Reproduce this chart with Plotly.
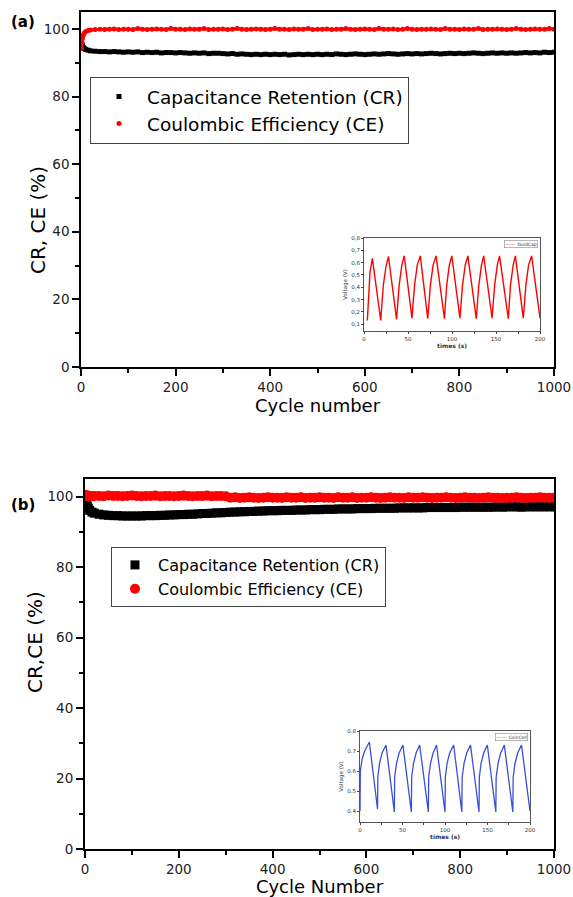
import plotly.graph_objects as go

# ---------------- data ----------------
cycles = [1, 2, 3, 5, 7, 10, 15, 20] + list(range(30, 1001, 10))

# panel (a)
cr_a = [95.9, 95.4, 95.0, 94.5, 94.2, 93.9, 93.7, 93.5,
        93.4, 93.3, 93.3, 93.2, 93.3, 93.2, 93.1, 93.2,
        93.1, 93.2, 93.0, 93.1, 93.0, 93.1, 92.9, 93.0, 93.0, 92.9,
        93.0, 92.9, 92.8, 92.9, 92.8, 92.9, 92.7, 92.8, 92.8, 92.7,
        92.6, 92.7, 92.5, 92.6, 92.5, 92.4, 92.5, 92.4, 92.5, 92.4,
        92.5, 92.4, 92.5, 92.3, 92.4, 92.5, 92.4, 92.5, 92.4, 92.5,
        92.4, 92.5, 92.4, 92.6, 92.5, 92.4, 92.5, 92.6, 92.5, 92.4,
        92.5, 92.6, 92.5, 92.6, 92.7, 92.6, 92.5, 92.6, 92.7, 92.6,
        92.7, 92.6, 92.7, 92.8, 92.7, 92.6, 92.7, 92.8, 92.7, 92.8,
        92.7, 92.8, 92.9, 92.8, 92.7, 92.8, 92.9, 92.8, 92.9, 92.8,
        92.9, 92.8, 92.9, 93.0, 92.9, 93.0, 92.9, 93.1, 93.0, 93.1]
ce_a = [94.3, 96.0, 97.2, 98.2, 98.8, 99.2, 99.5, 99.7,
        99.8, 99.9, 99.8, 99.9, 100.0, 99.8, 99.9, 99.9,
        99.8, 100.1, 99.9, 99.8, 99.9, 100.0, 99.9, 99.8, 100.1, 99.9,
        99.9, 99.8, 100.0, 99.9, 99.9, 100.1, 99.8, 99.9, 99.9, 100.0,
        99.8, 99.9, 100.1, 99.9, 99.8, 99.9, 100.0, 99.9, 99.8, 99.9,
        100.1, 99.9, 99.9, 99.8, 100.0, 99.9, 99.9, 100.1, 99.8, 99.9,
        99.9, 100.0, 99.8, 99.9, 99.9, 100.1, 99.9, 99.8, 99.9, 100.0,
        99.9, 99.8, 100.1, 99.9, 99.9, 100.0, 99.8, 99.9, 100.1, 99.9,
        99.8, 99.9, 99.9, 100.0, 99.9, 99.8, 100.1, 99.9, 99.9, 99.8,
        100.0, 99.9, 99.9, 100.1, 99.8, 99.9, 99.9, 100.0, 99.9, 99.8,
        99.9, 100.1, 99.9, 99.8, 99.9, 100.0, 99.9, 99.9, 100.1, 99.9]

# panel (b)
cr_b = [99.8, 98.9, 98.2, 97.3, 96.7, 96.1, 95.6, 95.3,
        95.0, 94.8, 94.7, 94.6, 94.6, 94.5, 94.5, 94.5,
        94.5, 94.5, 94.6, 94.6, 94.6, 94.7, 94.7, 94.8, 94.8, 94.9,
        94.9, 95.0, 95.0, 95.1, 95.2, 95.2, 95.3, 95.4, 95.4, 95.5,
        95.6, 95.6, 95.7, 95.7, 95.8, 95.8, 95.9, 95.9, 96.0, 96.0,
        96.0, 96.1, 96.1, 96.1, 96.2, 96.2, 96.2, 96.3, 96.3, 96.3,
        96.4, 96.4, 96.4, 96.5, 96.5, 96.5, 96.5, 96.6, 96.6, 96.6,
        96.6, 96.7, 96.7, 96.7, 96.7, 96.7, 96.8, 96.8, 96.8, 96.8,
        96.8, 96.8, 96.9, 96.9, 96.9, 96.9, 96.9, 96.9, 96.9, 97.0,
        97.0, 97.0, 97.0, 97.0, 97.0, 97.0, 97.0, 97.1, 97.0, 97.1,
        97.1, 97.1, 97.0, 97.1, 97.1, 97.1, 97.1, 97.1, 97.1, 97.1]
ce_b = [100.5, 100.3, 100.2, 100.2, 100.3, 100.2, 100.1, 100.2,
        100.2, 100.1, 100.3, 100.2, 100.2, 100.1, 100.2, 100.3,
        100.2, 100.1, 100.2, 100.2, 100.3, 100.1, 100.2, 100.2, 100.1, 100.2,
        100.3, 100.2, 100.1, 100.2, 100.2, 100.3, 100.1, 100.2, 100.2, 100.1,
        99.7, 99.8, 99.6, 99.7, 99.8, 99.7, 99.6, 99.7, 99.8, 99.7,
        99.7, 99.6, 99.8, 99.7, 99.7, 99.8, 99.6, 99.7, 99.7, 99.8,
        99.7, 99.7, 99.6, 99.8, 99.7, 99.7, 99.8, 99.6, 99.7, 99.7,
        99.8, 99.7, 99.6, 99.7, 99.8, 99.7, 99.7, 99.6, 99.8, 99.7,
        99.7, 99.8, 99.7, 99.6, 99.7, 99.7, 99.8, 99.7, 99.6, 99.7,
        99.8, 99.7, 99.7, 99.6, 99.7, 99.8, 99.7, 99.7, 99.6, 99.7,
        99.7, 99.8, 99.7, 99.6, 99.7, 99.7, 99.8, 99.7, 99.7, 99.7]

# inset (a): GoldCap charge/discharge
t_a = [3.8, 6.8, 9.5, 19.0, 22.0, 25.0, 27.8, 37.0, 40.0, 43.0, 45.7,
       54.5, 57.5, 60.5, 64.0, 72.4, 75.5, 78.5, 81.9, 91.4, 94.0, 97.0, 99.8,
       109.0, 112.0, 115.0, 118.0, 127.6, 130.5, 133.5, 136.0,
       145.5, 148.5, 151.5, 154.0, 164.0, 166.5, 169.5, 172.0,
       181.0, 184.0, 187.0, 190.5, 200.0]
v_a = [0.13, 0.52, 0.635, 0.13, 0.42, 0.57, 0.65, 0.14, 0.42, 0.58, 0.655,
       0.15, 0.42, 0.58, 0.655, 0.145, 0.42, 0.58, 0.655, 0.145, 0.42, 0.58, 0.655,
       0.15, 0.42, 0.58, 0.655, 0.145, 0.42, 0.58, 0.655,
       0.15, 0.42, 0.58, 0.655, 0.145, 0.42, 0.58, 0.655,
       0.15, 0.42, 0.58, 0.655, 0.15]

# inset (b): coin cell charge/discharge
t_b = [0.0, 0.4, 2.5, 5.5, 11.0,
       20.6, 21.0, 23.0, 26.0, 30.6,
       40.4, 40.8, 43.0, 46.0, 50.5,
       60.4, 60.8, 63.0, 66.0, 70.2,
       80.4, 80.8, 83.0, 86.0, 90.0,
       100.0, 100.4, 102.5, 105.5, 110.2,
       119.8, 120.2, 122.5, 125.5, 130.0,
       140.0, 140.4, 142.5, 145.5, 149.8,
       159.8, 160.2, 162.5, 165.5, 169.8,
       179.8, 180.2, 182.5, 185.5, 190.0,
       200.0]
v_b = [0.40, 0.60, 0.66, 0.70, 0.745,
       0.41, 0.57, 0.64, 0.69, 0.73,
       0.395, 0.57, 0.64, 0.69, 0.73,
       0.395, 0.57, 0.64, 0.69, 0.73,
       0.395, 0.57, 0.64, 0.69, 0.73,
       0.395, 0.57, 0.64, 0.69, 0.73,
       0.395, 0.57, 0.64, 0.69, 0.73,
       0.395, 0.57, 0.64, 0.69, 0.73,
       0.395, 0.57, 0.64, 0.69, 0.73,
       0.395, 0.57, 0.64, 0.69, 0.73,
       0.40]

main_yticks = [0, 20, 40, 60, 80, 100]
main_xticks = [0, 200, 400, 600, 800, 1000]
inset_xticks = [0, 50, 100, 150, 200]
inset_a_yticks = [0.1, 0.2, 0.3, 0.4, 0.5, 0.6, 0.7, 0.8]
inset_a_yticktext = ["0,1", "0,2", "0,3", "0,4", "0,5", "0,6", "0,7", "0,8"]
inset_b_yticks = [0.4, 0.5, 0.6, 0.7, 0.8]

FONT = "DejaVu Sans, Verdana, sans-serif"
W, H = 573, 897


def px_x(a, b):
    return [a / W, b / W]


def px_y(top, bottom):
    return [1 - bottom / H, 1 - top / H]


fig = go.Figure()

# ---- panel (a) ----
fig.add_trace(go.Scatter(x=cycles, y=cr_a, mode="lines", line=dict(color="black", width=3),
                         showlegend=False, hoverinfo="skip", xaxis="x", yaxis="y"))
fig.add_trace(go.Scatter(x=cycles, y=cr_a, mode="markers", name="Capacitance Retention (CR)",
                         marker=dict(symbol="square", size=5, color="black"),
                         legend="legend", xaxis="x", yaxis="y"))
fig.add_trace(go.Scatter(x=cycles, y=ce_a, mode="lines", line=dict(color="red", width=3),
                         showlegend=False, hoverinfo="skip", xaxis="x", yaxis="y"))
fig.add_trace(go.Scatter(x=cycles, y=ce_a, mode="markers", name="Coulombic Efficiency (CE)",
                         marker=dict(symbol="circle", size=5, color="red"),
                         legend="legend", xaxis="x", yaxis="y"))
fig.add_trace(go.Scatter(x=t_a, y=v_a, mode="lines", name="GoldCap",
                         line=dict(color="red", width=1.4), showlegend=False,
                         xaxis="x2", yaxis="y2"))

# ---- panel (b) ----
fig.add_trace(go.Scatter(x=cycles, y=cr_b, mode="lines", line=dict(color="black", width=7),
                         showlegend=False, hoverinfo="skip", xaxis="x3", yaxis="y3"))
fig.add_trace(go.Scatter(x=cycles, y=cr_b, mode="markers", name="Capacitance Retention (CR)",
                         marker=dict(symbol="square", size=9, color="black"),
                         legend="legend3", xaxis="x3", yaxis="y3"))
fig.add_trace(go.Scatter(x=cycles, y=ce_b, mode="lines", line=dict(color="red", width=8),
                         showlegend=False, hoverinfo="skip", xaxis="x3", yaxis="y3"))
fig.add_trace(go.Scatter(x=cycles, y=ce_b, mode="markers", name="Coulombic Efficiency (CE)",
                         marker=dict(symbol="circle", size=10, color="red"),
                         legend="legend3", xaxis="x3", yaxis="y3"))
fig.add_trace(go.Scatter(x=t_b, y=v_b, mode="lines", name="CoinCell",
                         line=dict(color="#3a4fd8", width=1.3), showlegend=False,
                         xaxis="x4", yaxis="y4"))

tickfont_main = dict(family=FONT, size=13.5, color="#222")
titlefont_main = dict(family=FONT, size=18, color="black")
tickfont_inset = dict(family=FONT, size=5.5, color="#333")


def main_x(domain, anchor, title, lw):
    return dict(domain=domain, anchor=anchor, range=[0, 1000], tickvals=main_xticks,
                ticks="outside", ticklen=7, tickwidth=lw, tickcolor="black",
                minor=dict(dtick=100, tick0=0, ticks="outside", ticklen=4, tickwidth=lw, tickcolor="black"),
                showline=True, linecolor="black", linewidth=lw, mirror=True,
                showgrid=False, zeroline=False, tickfont=tickfont_main, automargin=False,
                title=dict(text=title, font=titlefont_main, standoff=4))


def main_y(domain, anchor, lw):
    return dict(domain=domain, anchor=anchor, range=[0, 105], tickvals=main_yticks,
                ticks="outside", ticklen=7, tickwidth=lw, tickcolor="black",
                minor=dict(dtick=10, tick0=0, ticks="outside", ticklen=4, tickwidth=lw, tickcolor="black"),
                showline=True, linecolor="black", linewidth=lw, mirror=True,
                showgrid=False, zeroline=False, tickfont=tickfont_main, automargin=False)


def inset_x(domain, anchor):
    return dict(domain=domain, anchor=anchor, range=[0, 200], tickvals=inset_xticks,
                ticks="outside", ticklen=2, tickwidth=0.8, tickcolor="#444",
                minor=dict(dtick=25, tick0=0, ticks="outside", ticklen=1.5, tickwidth=0.8, tickcolor="#444"),
                showline=True, linecolor="#555", linewidth=1, mirror=True,
                showgrid=False, zeroline=False, tickfont=tickfont_inset, automargin=False,
                title=dict(text="<b>times (s)</b>", font=dict(family=FONT, size=6, color="#333"), standoff=1))


def inset_y(domain, anchor, rng, tv, tt=None):
    d = dict(domain=domain, anchor=anchor, range=rng, tickvals=tv,
             ticks="outside", ticklen=2, tickwidth=0.8, tickcolor="#444",
             showline=True, linecolor="#555", linewidth=1, mirror=True,
             showgrid=False, zeroline=False, tickfont=tickfont_inset, automargin=False,
             title=dict(text="Voltage (V)", font=dict(family=FONT, size=5.5, color="#333"), standoff=3))
    if tt is not None:
        d["ticktext"] = tt
    return d


def inset_legend(text, color, x_right, y_top):
    return dict(text='<span style="color:%s">\u2014\u2014</span>  %s' % (color, text),
                x=x_right / W, y=1 - y_top / H, xref="paper", yref="paper",
                xanchor="right", yanchor="top", showarrow=False,
                font=dict(family=FONT, size=4.5, color="#333"),
                bgcolor="white", bordercolor="#888", borderwidth=0.6, borderpad=1)


def ylabel(text, xc, yc):
    return dict(text=text, x=xc / W, y=1 - yc / H, xref="paper", yref="paper",
                xanchor="center", yanchor="middle", textangle=-90, showarrow=False,
                font=dict(family=FONT, size=20, color="black"))


fig.update_layout(
    width=W, height=H,
    margin=dict(l=0, r=0, t=0, b=0, autoexpand=False),
    paper_bgcolor="white", plot_bgcolor="rgba(0,0,0,0)",
    font=dict(family=FONT, color="black"),
    xaxis=main_x(px_x(81, 554), "y", "Cycle number", 1.5),
    yaxis=main_y(px_y(12, 367), "x", 1.5),
    xaxis2=inset_x(px_x(364, 540), "y2"),
    yaxis2=inset_y(px_y(238, 331), "x2", [0.045, 0.8], inset_a_yticks, inset_a_yticktext),
    xaxis3=main_x(px_x(85, 554), "y3", "Cycle Number", 2),
    yaxis3=main_y(px_y(479, 849), "x3", 2),
    xaxis4=inset_x(px_x(360, 530), "y4"),
    yaxis4=inset_y(px_y(731, 822), "x4", [0.345, 0.8], inset_b_yticks),
    legend=dict(x=90 / W, y=1 - 77 / H, xanchor="left", yanchor="top",
                bgcolor="white", bordercolor="#444", borderwidth=1, itemwidth=46,
                font=dict(family=FONT, size=18.5, color="black"), tracegroupgap=0),
    legend3=dict(x=111 / W, y=1 - 547 / H, xanchor="left", yanchor="top",
                 bgcolor="white", bordercolor="#444", borderwidth=1, itemwidth=36,
                 font=dict(family=FONT, size=16, color="black"), tracegroupgap=0),
    annotations=[
        dict(text="<b>(a)</b>", x=9 / W, y=1 - 22 / H, xref="paper", yref="paper",
             xanchor="left", yanchor="middle", showarrow=False,
             font=dict(family=FONT, size=15, color="black")),
        dict(text="<b>(b)</b>", x=9 / W, y=1 - 505 / H, xref="paper", yref="paper",
             xanchor="left", yanchor="middle", showarrow=False,
             font=dict(family=FONT, size=15, color="black")),
        ylabel("CR, CE (%)", 38, 220),
        ylabel("CR,CE (%)", 35, 642),
        inset_legend("GoldCap", "red", 538, 240),
        inset_legend("CoinCell", "#3a4fd8", 528, 733),
    ],
)

fig.write_html("out.html")
